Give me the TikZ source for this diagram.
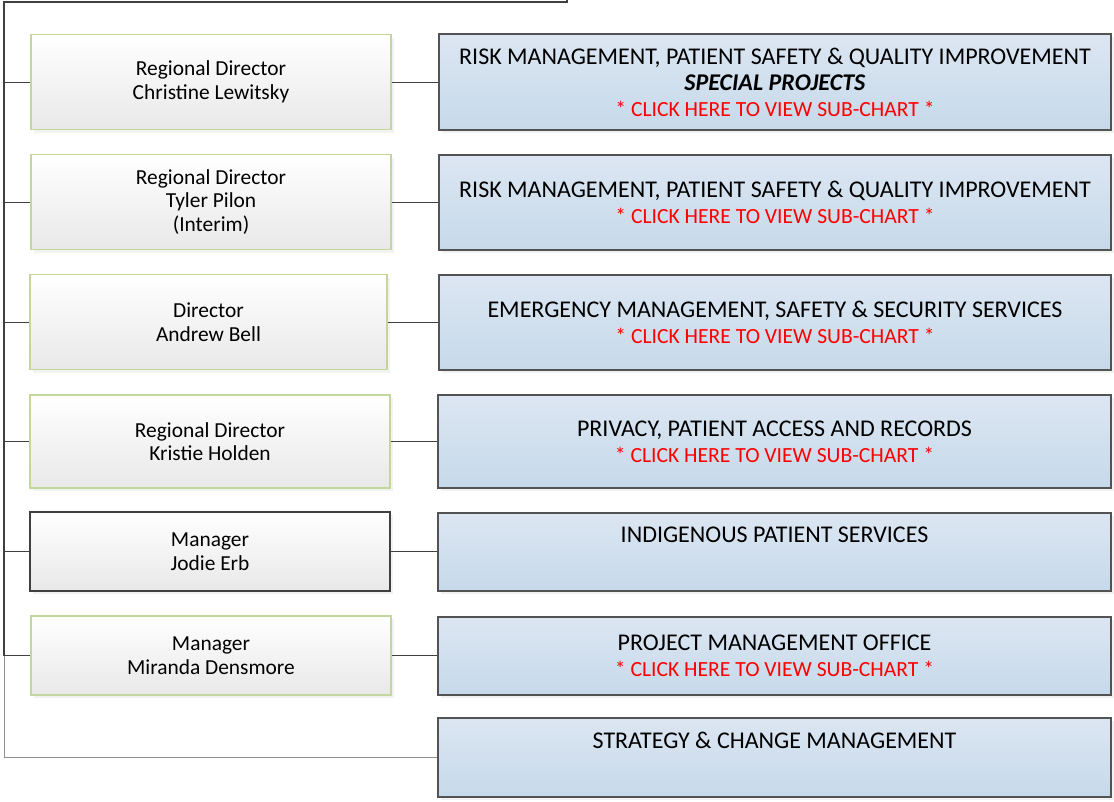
\documentclass[tikz,border=0pt]{standalone}
\usepackage{fontspec}
\setmainfont{Carlito}
\usetikzlibrary{shadows}

\definecolor{trunkgray}{HTML}{404040}
\definecolor{boxgreen}{HTML}{C3D69B}
\definecolor{boxblue}{HTML}{DCE6F2}
\definecolor{boxbluedk}{HTML}{C6D9EA}
\definecolor{clickred}{HTML}{FF0000}

\tikzset{
	link/.style={trunkgray, line width=1pt},
	person/.style={draw=boxgreen, line width=1.1pt, top color=white, bottom color=black!9,
		drop shadow={shadow xshift=3pt, shadow yshift=-3pt, fill=black!10},
		minimum width=360pt, align=center, font=\fontsize{21.4}{23.5}\selectfont},
	unit/.style={draw=trunkgray!90, line width=1.1pt, top color=boxblue, bottom color=boxbluedk,
		drop shadow={shadow xshift=3pt, shadow yshift=-3pt, fill=black!10},
		minimum width=672pt, align=center, font=\fontsize{24}{26}\selectfont}
}
\newcommand{\subchart}{{\fontsize{21.6}{26}\selectfont\textcolor{clickred}{* CLICK HERE TO VIEW SUB-CHART *}}}

\begin{document}
\begin{tikzpicture}[x=1pt, y=-1pt]
	\useasboundingbox (0,0) rectangle (1114,801);
	
	% people
	\node[person, minimum height=95pt] (l1) at (211,82) {Regional Director\\Christine Lewitsky};
	\node[person, minimum height=95pt] (l2) at (211,202) {Regional Director\\Tyler Pilon\\(Interim)};
	\node[person, minimum height=95pt, minimum width=357pt] (l3) at (208.5,322) {Director\\Andrew Bell};
	\node[person, minimum height=93pt] (l4) at (210,441.5) {Regional Director\\Kristie Holden};
	\node[person, minimum height=79pt, draw=trunkgray] (l5) at (210,551.5) {Manager\\Jodie Erb};
	\node[person, minimum height=79pt] (l6) at (211,655.5) {Manager\\Miranda Densmore};
	
	% units
	\node[unit, minimum height=96pt] (r1) at (775,82) {RISK MANAGEMENT, PATIENT SAFETY \& QUALITY IMPROVEMENT\\\textbf{\textit{SPECIAL PROJECTS}}\\\subchart};
	\node[unit, minimum height=95pt] (r2) at (775,202.5) {RISK MANAGEMENT, PATIENT SAFETY \& QUALITY IMPROVEMENT\\\subchart};
	\node[unit, minimum height=95pt] (r3) at (775,322.5) {EMERGENCY MANAGEMENT, SAFETY \& SECURITY SERVICES\\\subchart};
	\node[unit, minimum height=93pt, minimum width=673pt] (r4) at (774.5,441.5) {PRIVACY, PATIENT ACCESS AND RECORDS\\\subchart};
	\node[unit, minimum height=78pt, minimum width=673pt] (r5) at (774.5,552) {INDIGENOUS PATIENT SERVICES\\\strut};
	\node[unit, minimum height=78pt, minimum width=673pt] (r6) at (774.5,656) {PROJECT MANAGEMENT OFFICE\\\subchart};
	\node[unit, minimum height=79pt, minimum width=673pt] (r7) at (774.5,757.5) {STRATEGY \& CHANGE MANAGEMENT\\\strut};
	
	% trunk
	\coordinate (up) at (567,0);
	\coordinate (corner) at (567,2);
	\coordinate (top) at (4,2);
	\coordinate (split) at (4,655.5);
	\draw[link, line width=1.4pt] (up) -- (corner) -- (top) -- (split);
	\draw[link, trunkgray!60] (split) -- (split|-r7.west) -- (r7.west);
	
	\foreach \n in {1,...,6}
	\draw[link] (top|-l\n.west) -- (l\n.west) (l\n.east) -- (r\n.west|-l\n.east);
\end{tikzpicture}
\end{document}
